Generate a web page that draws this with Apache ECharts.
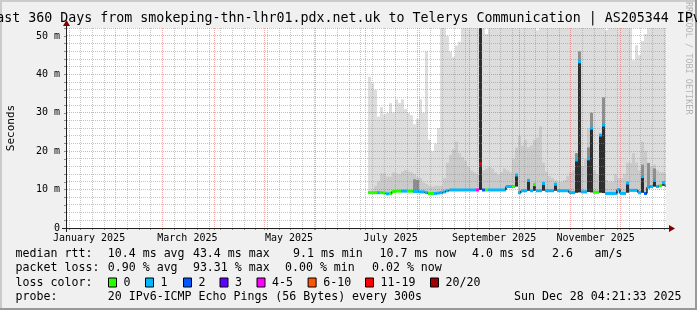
<!DOCTYPE html>
<html>
<head>
<meta charset="utf-8">
<script src="https://cdn.jsdelivr.net/npm/echarts@6.0.0/dist/echarts.min.js"></script>
<style>
html,body{margin:0;padding:0;background:#f0f0f0;}
#chart{width:697px;height:310px;}
</style>
</head>
<body>
<div id="chart"></div>
<script>
// ================= DATA =================
const titleText = 'Last 360 Days from smokeping-thn-lhr01.pdx.net.uk to Telerys Communication | AS205344 IPv6';
const yAxisName = 'Seconds';
const watermark = 'RRDTOOL / TOBI OETIKER';
const monthNames = ['January','February','March','April','May','June','July','August','September','October','November','December'];
const labelMonths = [0, 2, 4, 6, 8, 10];
const labelYear = '2025';
const yLabelValues = [0, 10, 20, 30, 40, 50];
const yMax = 52.08;
const rangeDays = 360;
// one column every 1.8 days, first column centred on day 181.8 after the graph start
const firstDay = 181.8;
const stepDay = 1.8;
const N = null;

// median rtt per column (ms)
const medianMs = [
  9.2,9.2,9.2,9.2,9.2,9.1,8.9,9.0,9.5,9.6,
  9.6,9.6,9.6,9.6,9.6,9.5,9.5,9.4,9.4,9.2,
  9.0,9.0,9.0,9.1,9.2,9.4,9.7,9.9,9.9,9.9,
  9.9,9.9,9.9,9.9,9.9,9.9,9.9,16.7,9.9,9.9,
  9.9,9.9,9.9,9.9,9.9,9.9,10.8,10.8,10.8,13.8,
  9.2,9.7,9.7,12.4,9.7,11.3,9.7,9.7,11.6,9.7,
  9.7,9.7,11.4,9.7,9.7,9.7,9.7,9.2,9.2,17.7,
  43.3,9.4,9.4,18.0,26.0,9.3,9.3,24.2,26.8,9.0,
  9.0,9.0,9.0,10.0,9.0,9.0,11.7,9.8,9.8,9.8,
  9.2,13.4,9.0,10.6,10.8,12.4,10.8,11.0,11.8,11.0
];
// fastest ping per column (bottom of the smoke, ms)
const minMs = [
  9.2,9.2,9.2,9.2,9.2,9.1,8.9,9.0,9.5,9.6,
  9.6,9.6,9.6,9.6,9.6,9.5,9.5,9.4,9.4,9.2,
  9.0,9.0,9.0,9.1,9.2,9.4,9.7,9.9,9.9,9.9,
  9.9,9.9,9.9,9.9,9.9,9.9,9.9,9.9,9.9,9.9,
  9.9,9.9,9.9,9.9,9.9,9.9,10.8,10.8,10.8,10.8,
  9.2,9.7,9.7,9.7,9.7,9.7,9.7,9.7,9.7,9.7,
  9.7,9.7,9.7,9.7,9.7,9.7,9.7,9.2,9.2,9.2,
  9.3,9.4,9.4,9.4,9.3,9.3,9.3,9.2,9.1,9.0,
  9.0,9.0,9.0,9.0,9.0,9.0,9.2,9.8,9.8,9.8,
  9.2,9.2,9.0,10.6,10.8,10.8,10.8,11.0,11.0,11.0
];
// loss colour bucket per column (index into lossLabels)
const lossIdx = [
  0,0,0,1,0,0,1,0,0,0,
  0,1,1,0,0,1,1,1,1,1,
  0,0,1,1,1,1,1,1,1,1,
  1,1,1,1,1,1,4,6,2,0,
  1,1,1,1,1,1,1,1,0,1,
  1,1,1,1,1,0,1,1,1,1,
  1,1,1,1,1,1,1,1,1,1,
  1,1,1,1,1,0,0,1,1,1,
  1,1,1,1,1,1,1,1,1,1,
  1,1,2,1,1,1,1,0,1,1
];
// slowest ping per column (outer smoke, ms; 60 = above the top of the graph)
const maxMs = [
  39.4,37.7,36.0,29.0,31.5,29.6,30.0,32.5,30.1,33.5,
  32.5,33.5,31.0,30.0,29.4,27.0,28.4,33.5,30.0,46.0,
  23.0,20.0,22.0,26.0,60,60,50.0,46.0,44.5,47.5,
  48.5,60,60,60,60,60,60,60,60,50.5,
  60,60,60,60,60,60,60,60,60,60,
  60,60,60,60,60,60,51.5,60,60,60,
  60,60,60,60,60,60,60,60,60,60,
  60,60,60,60,60,60,60,60,60,51.5,
  60,60,60,60,60,60,60,60,43.7,47.6,
  45.0,48.7,50.5,60,60,60,60,60,60,60
];
// second smoke layer top (ms)
const midMs = [
  9.2,9.2,11.0,12.1,14.2,14.2,13.4,13.4,14.5,14.2,
  14.0,14.7,15.1,14.7,14.5,14.0,13.2,13.0,11.8,11.5,
  11.0,10.8,11.0,11.0,11.0,13.0,17.0,19.0,20.5,22.5,
  19.5,18.5,17.5,16.0,15.0,14.5,14.0,14.0,15.0,15.5,
  16.0,15.5,14.5,13.8,14.5,15.5,15.0,14.5,18.0,21.0,
  24.0,21.5,23.0,21.0,21.5,23.0,23.5,26.5,17.0,14.7,
  13.5,13.0,12.5,12.0,12.0,12.5,13.5,14.5,15.0,18.0,
  20.0,16.0,18.0,26.0,30.0,15.0,14.0,20.0,28.0,12.5,
  12.0,12.0,14.0,13.0,13.0,14.0,17.0,16.9,19.5,17.0,
  15.0,22.5,20.0,17.0,16.0,16.5,15.0,14.5,14.5,14.0
];
// darker inner smoke top (ms)
const darkMs = [
  N,N,N,N,N,N,N,N,N,N,
  N,N,N,N,N,12.7,12.5,N,N,N,
  N,N,N,N,N,N,N,N,N,N,
  N,N,N,N,N,N,N,N,N,N,
  N,N,N,N,N,N,N,N,N,N,
  N,N,N,N,N,N,N,N,N,N,
  N,N,N,N,N,N,N,N,N,19.5,
  46.0,N,N,21.0,30.0,N,N,N,34.0,N,
  N,N,N,N,N,N,N,N,N,N,
  N,16.5,N,16.9,N,15.5,N,N,N,N
];
// darkest core smoke top (ms)
const coreMs = [
  N,N,N,N,N,N,N,N,N,N,
  N,N,N,N,N,N,N,N,N,N,
  N,N,N,N,N,N,N,N,N,N,
  N,N,N,N,N,N,N,60,N,N,
  N,N,N,N,N,N,N,N,N,13.8,
  N,N,N,12.4,N,11.3,N,N,11.6,N,
  N,N,11.4,N,N,N,N,N,N,17.7,
  43.3,N,N,18.0,26.0,N,N,24.2,26.8,N,
  N,N,N,N,N,N,11.7,N,N,N,
  N,13.4,N,N,N,12.4,N,N,11.8,N
];
const lossLabels = ['0','1','2','3','4-5','6-10','11-19','20/20'];
const lossColors = ['#26ff00','#00b8ff','#0059ff','#5e00ff','#ff00ff','#ff5500','#ff0000','#a00000'];
const rttTexts = ['median rtt:','10.4 ms avg','43.4 ms max','9.1 ms min','10.7 ms now','4.0 ms sd','2.6','am/s'];
const lossTexts = ['packet loss:','0.90 % avg','93.31 % max','0.00 % min','0.02 % now'];
const lossColorTitle = 'loss color:';
const probeTexts = ['probe:','20 IPv6-ICMP Echo Pings (56 Bytes) every 300s'];
const dateText = 'Sun Dec 28 04:21:33 2025';

// ================= LAYOUT / STYLE =================
const G = {left: 66, top: 28, width: 600, height: 200};
const mono = '"DejaVu Sans Mono", monospace';
const legendFont = '11.6px ' + mono;
const smokeFills = ['#dddddd', '#cacaca', '#8e8e8e', '#2e2e2e'];
const gridMinor = 'rgba(140,140,140,0.5)';
const gridMajor = 'rgba(225,50,50,0.42)';
const arrowColor = '#7f0000';
const axisColor = '#202020';

const startTs = Date.UTC(2025, 0, 2, 4, 21, 33);
const dayOf = (y, m, d) => (Date.UTC(y, m, d) - startTs) / 864e5;
const monthStarts = [];
for (let m = 1; m < 12; m++) monthStarts.push(dayOf(2025, m, 1));
const weekLines = [];
for (let d = dayOf(2025, 0, 4); d < rangeDays; d += 7) weekLines.push(d);
const labelDays = labelMonths.map(m => dayOf(2025, m, 16));

const gridData = [];
weekLines.forEach(d => { if (!monthStarts.some(s => Math.abs(s - d) < 0.6)) gridData.push([d, 0, 0, 0]); });
monthStarts.forEach(d => gridData.push([d, 0, 0, 1]));
for (let v = 2; v < yMax; v += 2) gridData.push([0, v, 1, v % 10 === 0 ? 1 : 0]);

const smokeData = medianMs.map((m, i) => [
  firstDay + stepDay * i, minMs[i], maxMs[i], midMs[i],
  darkMs[i] == null ? minMs[i] : darkMs[i],
  coreMs[i] == null ? minMs[i] : coreMs[i]
]);
const medianData = medianMs.map((m, i) => [firstDay + stepDay * i, m, lossIdx[i]]);

function colEdges(api, d) {
  return [Math.round(api.coord([d - stepDay / 2, 0])[0]), Math.round(api.coord([d + stepDay / 2, 0])[0])];
}
function renderSmoke(params, api) {
  const d = api.value(0), lo = api.value(1);
  const [xl, xr] = colEdges(api, d);
  const yb = api.coord([d, lo])[1];
  const kids = [];
  for (let k = 0; k < smokeFills.length; k++) {
    const v = api.value(2 + k);
    if (!(v > lo)) continue;
    const yt = api.coord([d, Math.min(v, yMax)])[1];
    kids.push({type: 'rect', shape: {x: xl, y: yt, width: xr - xl, height: yb - yt}, style: {fill: smokeFills[k]}});
  }
  return {type: 'group', children: kids};
}
function renderMedian(params, api) {
  const i = params.dataIndex;
  const d = api.value(0), m = api.value(1), li = api.value(2);
  const [xl, xr] = colEdges(api, d);
  const y = api.coord([d, Math.min(m, yMax)])[1];
  const kids = [];
  if (i > 0 && coreMs[i] == null && coreMs[i - 1] == null && medianMs[i - 1] !== m) {
    const yp = api.coord([d, medianMs[i - 1]])[1];
    kids.push({type: 'line', shape: {x1: xl, y1: yp, x2: xl, y2: y}, style: {stroke: '#202020', lineWidth: 1.5}});
  }
  kids.push({type: 'line', shape: {x1: xl, y1: y, x2: xr, y2: y}, style: {stroke: lossColors[li], lineWidth: 3}});
  return {type: 'group', children: kids};
}
function renderGrid(params, api) {
  const orient = api.value(2), major = api.value(3);
  const p0 = api.coord([0, 0]), p1 = api.coord([rangeDays, yMax]);
  let shape;
  if (orient === 0) {
    const x = Math.floor(api.coord([api.value(0), 0])[0]) + 0.5;
    shape = {x1: x, y1: p1[1], x2: x, y2: p0[1] - 1};
  } else {
    const y = Math.floor(api.coord([0, api.value(1)])[1]) + 0.5;
    shape = {x1: p0[0] + 1, y1: y, x2: p1[0], y2: y};
  }
  return {type: 'line', shape, style: {stroke: major ? gridMajor : gridMinor, lineWidth: 1, lineDash: [1, 1]}};
}

// ================= GRAPHIC (title, legend, frame) =================
const rttX = [15.6, 107.8, 192.9, 293, 379.5, 472, 552, 594.6];
const lossX = [15.6, 107.8, 192.9, 285, 372];
const boxX = [108, 145, 183, 219.5, 256.5, 307.6, 365, 430];
const rowY = [253.5, 268, 282.5, 297];
function txt(text, x, y, opts) {
  return Object.assign({type: 'text', x: x, y: y, silent: true,
    style: Object.assign({text: text, font: legendFont, fill: '#000', textAlign: 'left', textVerticalAlign: 'middle', align: 'left', verticalAlign: 'middle'}, (opts || {}))});
}
const graphics = [];
graphics.push({type: 'rect', shape: {x: 0, y: 0, width: 697, height: 2}, style: {fill: '#cbcbcb'}, silent: true});
graphics.push({type: 'rect', shape: {x: 0, y: 0, width: 2, height: 310}, style: {fill: '#cbcbcb'}, silent: true});
graphics.push({type: 'rect', shape: {x: 695, y: 0, width: 2, height: 310}, style: {fill: '#999999'}, silent: true});
graphics.push({type: 'rect', shape: {x: 0, y: 308, width: 697, height: 2}, style: {fill: '#999999'}, silent: true});
graphics.push({type: 'text', x: 688, y: 2, rotation: -Math.PI / 2, silent: true,
  style: {text: watermark, font: '8.5px ' + mono, fill: '#b4b4b4', textAlign: 'left', align: 'left', textVerticalAlign: 'middle', verticalAlign: 'middle'}});
graphics.push(txt(titleText, 348.5, 18.5, {font: '13.3px ' + mono, textAlign: 'center', align: 'center'}));
graphics.push({type: 'text', x: 11.5, y: G.top + G.height / 2, rotation: Math.PI / 2, silent: true,
  style: {text: yAxisName, font: '11px ' + mono, fill: '#000', textAlign: 'center', align: 'center', textVerticalAlign: 'middle', verticalAlign: 'middle'}});
rttTexts.forEach((t, k) => graphics.push(txt(t, rttX[k], rowY[0])));
lossTexts.forEach((t, k) => graphics.push(txt(t, lossX[k], rowY[1])));
graphics.push(txt(lossColorTitle, 15.6, rowY[2]));
lossLabels.forEach((t, k) => {
  graphics.push({type: 'rect', shape: {x: boxX[k] + 0.5, y: rowY[2] - 4.5, width: 8, height: 9}, style: {fill: lossColors[k], stroke: '#000', lineWidth: 1}, silent: true});
  graphics.push(txt(t, boxX[k] + 15.6, rowY[2]));
});
graphics.push(txt(probeTexts[0], 15.6, rowY[3]));
graphics.push(txt(probeTexts[1], 107.8, rowY[3]));
graphics.push(txt(dateText, 681.5, rowY[3], {textAlign: 'right', align: 'right'}));
// axis extensions and arrows
const xAxisY = G.top + G.height + 0.5, yAxisX = G.left + 0.5;
graphics.push({type: 'line', shape: {x1: 62, y1: xAxisY, x2: 670, y2: xAxisY}, style: {stroke: axisColor, lineWidth: 1}, silent: true, z: 50});
graphics.push({type: 'line', shape: {x1: yAxisX, y1: 232, x2: yAxisX, y2: 25}, style: {stroke: axisColor, lineWidth: 1}, silent: true, z: 50});
graphics.push({type: 'polygon', shape: {points: [[669, 225], [669, 232], [675, 228.5]]}, style: {fill: arrowColor}, silent: true, z: 50});
graphics.push({type: 'polygon', shape: {points: [[63, 26], [70, 26], [66.5, 20]]}, style: {fill: arrowColor}, silent: true, z: 50});

// ================= CHART =================
const chart = echarts.init(document.getElementById('chart'), null, {renderer: 'canvas'});
chart.setOption({
  animation: false,
  backgroundColor: '#f0f0f0',
  grid: Object.assign({show: true, backgroundColor: '#ffffff', borderWidth: 0, containLabel: false}, G),
  xAxis: {
    type: 'value', min: 0, max: rangeDays,
    axisLine: {show: false},
    splitLine: {show: false},
    axisTick: {show: true, customValues: weekLines.concat(monthStarts), length: 2, inside: false, lineStyle: {color: '#8c8c8c'}},
    axisLabel: {
      customValues: labelDays, margin: 5, fontSize: 10, fontFamily: mono, color: '#000', lineHeight: 10,
      formatter: v => {
        const k = labelDays.findIndex(d => Math.abs(d - v) < 0.01);
        return k < 0 ? '' : monthNames[labelMonths[k]] + ' ' + labelYear;
      }
    }
  },
  yAxis: {
    type: 'value', min: 0, max: yMax, interval: 10,
    axisLine: {show: false},
    splitLine: {show: false},
    axisTick: {show: true, customValues: [0,2,4,6,8,10,12,14,16,18,20,22,24,26,28,30,32,34,36,38,40,42,44,46,48,50,52], length: 2, lineStyle: {color: '#8c8c8c'}},
    axisLabel: {
      customValues: yLabelValues, margin: 6, fontSize: 10, fontFamily: mono, color: '#000',
      formatter: v => v === 0 ? '0' : v + ' m'
    }
  },
  series: [
    {type: 'custom', name: 'smoke', renderItem: renderSmoke, data: smokeData, clip: true, z: 1, silent: true,
      encode: {x: 0, y: 1}},
    {type: 'custom', name: 'grid', renderItem: renderGrid, data: gridData, clip: false, z: 2, silent: true,
      encode: {x: 0, y: 1}},
    {type: 'custom', name: 'median', renderItem: renderMedian, data: medianData, clip: true, z: 3, silent: true,
      encode: {x: 0, y: 1}}
  ],
  graphic: {elements: graphics}
});
</script>
</body>
</html>
